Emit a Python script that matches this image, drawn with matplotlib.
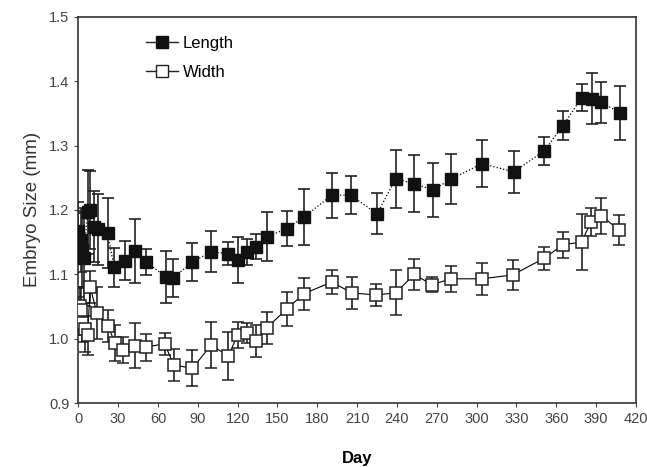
import matplotlib.pyplot as plt
from matplotlib.lines import Line2D

# --- values ---
len_day = [0, 2, 3, 4, 7, 9, 12, 15, 22, 27, 35, 43, 51, 66, 71, 86, 100, 113, 120,
           127, 134, 142, 157, 170, 191, 205, 225, 239, 253, 267, 281, 304, 328,
           351, 365, 379, 387, 394, 408]
len_val = [1.168, 1.153, 1.138, 1.125, 1.197, 1.2, 1.174, 1.17, 1.164, 1.111, 1.121,
           1.136, 1.119, 1.096, 1.094, 1.119, 1.135, 1.132, 1.122, 1.135, 1.143,
           1.158, 1.171, 1.189, 1.223, 1.223, 1.194, 1.248, 1.241, 1.231, 1.248,
           1.272, 1.259, 1.292, 1.331, 1.374, 1.373, 1.367, 1.351]
len_err = [0.045, 0.05, 0.06, 0.07, 0.065, 0.06, 0.055, 0.055, 0.055, 0.03, 0.03,
           0.05, 0.02, 0.04, 0.03, 0.03, 0.032, 0.018, 0.036, 0.02, 0.02, 0.038,
           0.027, 0.044, 0.035, 0.03, 0.032, 0.045, 0.045, 0.042, 0.039, 0.037,
           0.033, 0.022, 0.022, 0.021, 0.04, 0.032, 0.042]

wid_day = [0, 1, 2, 3, 5, 7, 9, 14, 22, 28, 34, 43, 51, 65, 72, 86, 100, 113, 120,
           127, 134, 142, 157, 170, 191, 206, 224, 239, 253, 266, 281, 304, 327,
           351, 365, 379, 386, 394, 407]
wid_val = [1.035, 1.05, 1.045, 1.025, 1.015, 1.005, 1.08, 1.04, 1.02, 0.993, 0.982,
           0.989, 0.987, 0.992, 0.959, 0.954, 0.99, 0.973, 1.006, 1.009, 0.996,
           1.017, 1.046, 1.07, 1.088, 1.071, 1.068, 1.071, 1.1, 1.084, 1.093, 1.093,
           1.099, 1.125, 1.146, 1.15, 1.181, 1.191, 1.169]
wid_err = [0.03, 0.03, 0.035, 0.03, 0.035, 0.03, 0.025, 0.04, 0.025, 0.028, 0.02,
           0.035, 0.021, 0.017, 0.025, 0.028, 0.036, 0.037, 0.02, 0.015, 0.025,
           0.025, 0.027, 0.025, 0.018, 0.025, 0.017, 0.035, 0.024, 0.012, 0.02,
           0.025, 0.023, 0.018, 0.02, 0.043, 0.022, 0.028, 0.023]

x_ticks = list(range(0, 421, 30))
y_ticks = [0.9, 1.0, 1.1, 1.2, 1.3, 1.4, 1.5]

plt.rcParams['font.family'] = ['Liberation Sans', 'DejaVu Sans']

fig = plt.figure(figsize=(6.47, 4.67), dpi=100)
ax = fig.add_axes([0.121, 0.137, 0.862, 0.827])

ax.errorbar(len_day, len_val, yerr=len_err, fmt='s', color='black', ms=8.5,
            mfc='#111111', mec='#111111', ecolor='#222222', elinewidth=1.2,
            capsize=4, capthick=1.2, ls=':', lw=0.9, zorder=3)
ax.errorbar(wid_day, wid_val, yerr=wid_err, fmt='s', color='black', ms=8.5,
            mfc='white', mec='#222222', mew=1.1, ecolor='#222222', elinewidth=1.2,
            capsize=4, capthick=1.2, ls='-', lw=0.8, zorder=3)

ax.set_xlim(0, 420)
ax.set_ylim(0.9, 1.5)
ax.set_xticks(x_ticks)
ax.set_yticks(y_ticks)
ax.set_yticklabels([f'{v:.1f}' for v in y_ticks])
ax.tick_params(direction='out', length=3, labelsize=10.5, labelcolor='#444444',
               color='#444444')
for s in ax.spines.values():
    s.set_linewidth(1.2)
    s.set_color('#333333')

ax.set_xlabel('Day', fontsize=12, fontweight='bold', labelpad=18)
ax.set_ylabel('Embryo Size (mm)', fontsize=13.5, color='#333333', labelpad=6)

handles = [Line2D([], [], color='#222222', lw=1.0, marker='s', ms=8.5,
                  mfc='#111111', mec='#111111'),
           Line2D([], [], color='#222222', lw=1.0, marker='s', ms=8.5,
                  mfc='white', mec='#222222')]
ax.legend(handles, ['Length', 'Width'], loc='upper left',
          bbox_to_anchor=(0.095, 0.99), frameon=False, fontsize=12,
          handlelength=1.9, handletextpad=0.3, labelspacing=0.85)

fig.savefig('out.png', dpi=100)
